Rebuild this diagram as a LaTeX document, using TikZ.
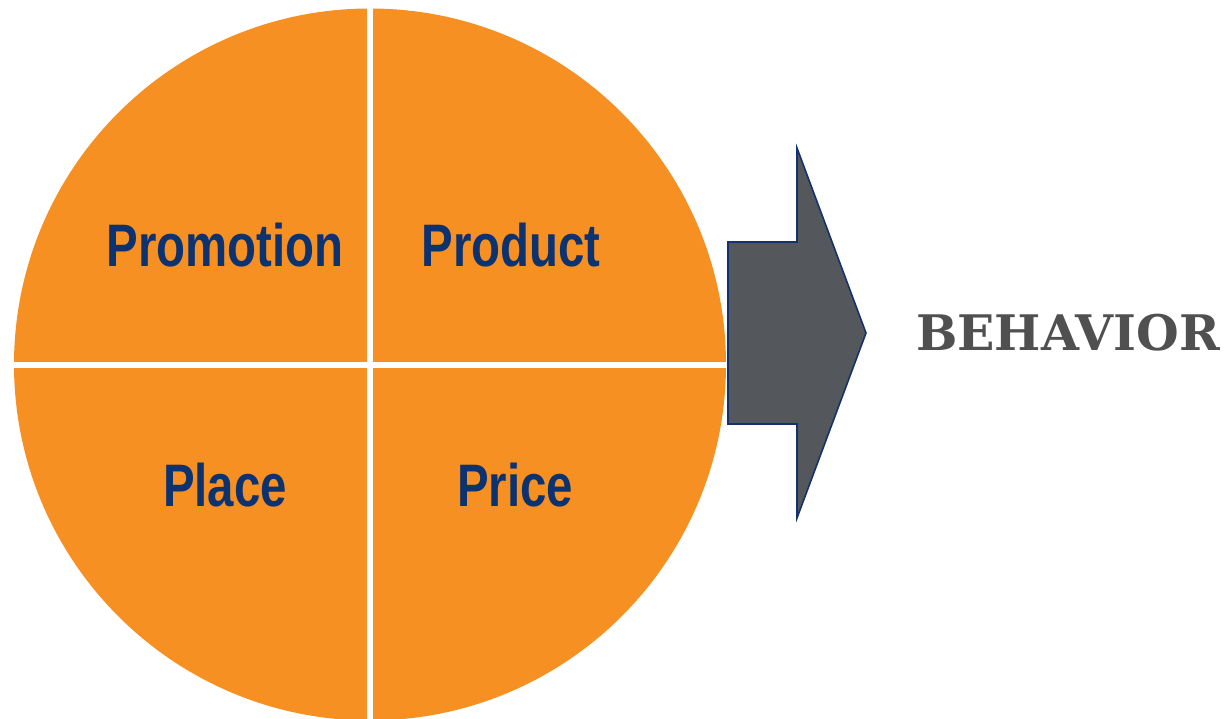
\documentclass[tikz,border=0pt]{standalone}
\usepackage{fontspec}
\usepackage{graphicx}
\setmainfont{Liberation Sans}
\newfontfamily\behavfont{DejaVu Serif}
\definecolor{wheelorange}{RGB}{247,144,34}
\definecolor{labelnavy}{RGB}{12,50,112}
\definecolor{arrowgray}{RGB}{84,87,92}
\definecolor{arrowedge}{RGB}{20,50,110}
\definecolor{behavgray}{RGB}{80,80,80}
\tikzset{
  quarter/.style={font=\fontsize{60}{60}\selectfont\bfseries, text=labelnavy, inner sep=0pt},
  divider/.style={white, line width=6pt},
  bigarrow/.style={fill=arrowgray, draw=arrowedge, line width=1.6pt, line join=miter},
  behav/.style={font=\behavfont\bfseries\fontsize{49}{49}\selectfont, text=behavgray, inner sep=0pt}
}
\newcommand{\narrow}[1]{\scalebox{0.79}[1]{#1}}
\begin{document}
\begin{tikzpicture}[x=1pt, y=-1pt]
  \useasboundingbox (0,0) rectangle (1232,718);
  % the marketing-mix wheel
  \begin{scope}
    \clip (0,0) rectangle (1232,718);
    \fill[wheelorange] (370,364.5) circle (356);
    \draw[divider] (370,0) -- (370,730);
    \draw[divider] (0,364.5) -- (740,364.5);
  \end{scope}
  \node[quarter] (promotion) at (225,245) {\narrow{Promotion}};
  \node[quarter] (product)   at (511,245) {\narrow{Product}};
  \node[quarter] (place)     at (225,485) {\narrow{Place}};
  \node[quarter] (price)     at (515,485) {\narrow{Price}};
  % block arrow
  \draw[bigarrow] (728,242) -- (797,242) -- (797,148) -- (866,333)
    -- (797,518) -- (797,424) -- (728,424) -- cycle;
  \node[behav] (behavior) at (1068,333) {BEHAVIOR};
\end{tikzpicture}
\end{document}
